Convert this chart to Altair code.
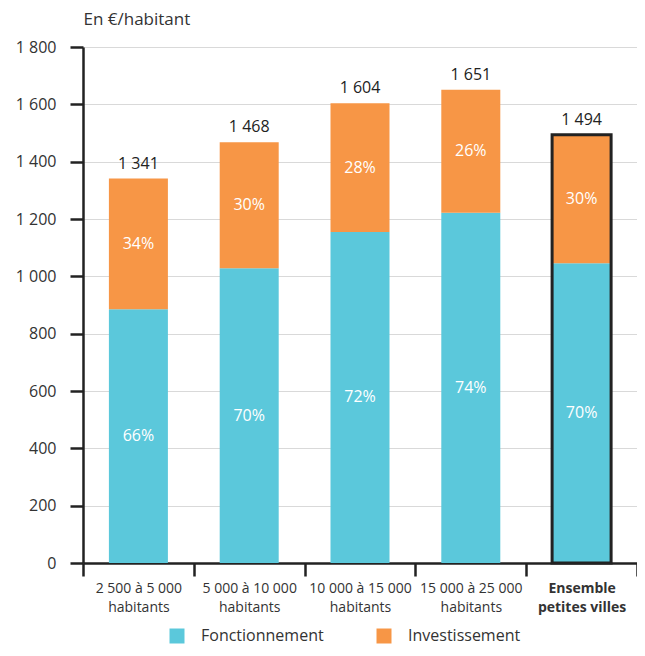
import altair as alt
import pandas as pd

categories = ["2 500 à 5 000|habitants", "5 000 à 10 000|habitants",
              "10 000 à 15 000|habitants", "15 000 à 25 000|habitants",
              "Ensemble|petites villes"]
totals = [1341, 1468, 1604, 1651, 1494]
fonctionnement = [885, 1028, 1155, 1222, 1046]
pct_fonct = [66, 70, 72, 74, 70]
pct_invest = [34, 30, 28, 26, 30]
series = ["Fonctionnement", "Investissement"]
colors = ["#5BC8DB", "#F79646"]
y_ticks = [0, 200, 400, 600, 800, 1000, 1200, 1400, 1600, 1800]

rows = []
for c, t, f, pf, pi in zip(categories, totals, fonctionnement, pct_fonct, pct_invest):
    rows.append({"cat": c, "serie": series[0], "value": f, "pct": f"{pf}%", "order": 0})
    rows.append({"cat": c, "serie": series[1], "value": t - f, "pct": f"{pi}%", "order": 1})
df = pd.DataFrame(rows)

tot_df = pd.DataFrame({
    "cat": categories,
    "total": totals,
    "label": [f"{t:,}".replace(",", " ") for t in totals],
})

LAST = categories[-1]
FONT = "Open Sans"

xenc = alt.X(
    "cat:N",
    sort=categories,
    scale=alt.Scale(domain=categories, paddingInner=0, paddingOuter=0),
    axis=alt.Axis(
        title=None, labelExpr="split(datum.label, '|')", labelAngle=0,
        tickBand="extent", domainColor="#222", domainWidth=2.5,
        tickColor="#222", tickWidth=2.5, tickSize=13, labelPadding=5,
        labelFontSize=14, labelColor="#333", labelLineHeight=19,
        labelOverlap=False, labelBaseline="top",
        labelFontWeight=alt.condition(f"datum.value == '{LAST}'", alt.value("bold"), alt.value("normal")),
        labelFont=FONT,
    ),
)

yscale = alt.Scale(domain=[0, 1800], nice=False)
yaxis = alt.Axis(
    title="En €/habitant", titleAngle=0, titleAlign="left", titleX=0, titleY=-23,
    titleBaseline="alphabetic", titleFontSize=17, titleFontWeight="normal",
    titleColor="#333", titleFont=FONT,
    values=y_ticks, labelExpr="replace(format(datum.value, ','), ',', ' ')",
    labelFontSize=16, labelPadding=14, tickSize=13, tickWidth=2.5, tickColor="#222",
    domainColor="#222", domainWidth=2.5, gridColor="#d9d9d9", gridWidth=1,
    labelColor="#333", labelFont=FONT,
)

base = alt.Chart(df).transform_stack(
    stack="value", groupby=["cat"], as_=["y0", "y1"], sort=[alt.SortField("order")]
).transform_calculate(mid="(datum.y0 + datum.y1) / 2")

bars = base.mark_bar(size=59).encode(
    x=xenc,
    y=alt.Y("y0:Q", scale=yscale, axis=yaxis),
    y2="y1:Q",
    color=alt.Color(
        "serie:N",
        scale=alt.Scale(domain=series, range=colors),
        legend=alt.Legend(
            title=None, orient="none", legendX=86, legendY=581, direction="horizontal",
            symbolType="square", symbolSize=225, symbolStrokeWidth=0, symbolOpacity=1,
            labelFontSize=16, labelOffset=16, columnPadding=52, labelColor="#333",
            labelFont=FONT,
        ),
    ),
)

pct_text = base.mark_text(color="white", fontSize=16, font=FONT, baseline="middle").encode(
    x=alt.X("cat:N", sort=categories),
    y=alt.Y("mid:Q"),
    text="pct:N",
)

outline = alt.Chart(tot_df).transform_filter(
    f"datum.cat == '{LAST}'"
).mark_bar(size=59, fillOpacity=0, stroke="#222", strokeWidth=3).encode(
    x=alt.X("cat:N", sort=categories),
    y=alt.Y("total:Q"),
)

tot_text = alt.Chart(tot_df).mark_text(
    fontSize=16, font=FONT, color="#222", baseline="alphabetic", dy=-10
).encode(
    x=alt.X("cat:N", sort=categories),
    y=alt.Y("total:Q"),
    text="label:N",
)

chart = alt.layer(bars, pct_text, outline, tot_text).properties(
    width=554, height=516,
    autosize=alt.AutoSizeParams(type="none"),
    padding={"left": 75, "top": 39, "right": 0, "bottom": 85},
).configure_view(stroke=None).configure(font=FONT)

chart.save("out.html", embed_options={"renderer": "svg", "actions": False})
